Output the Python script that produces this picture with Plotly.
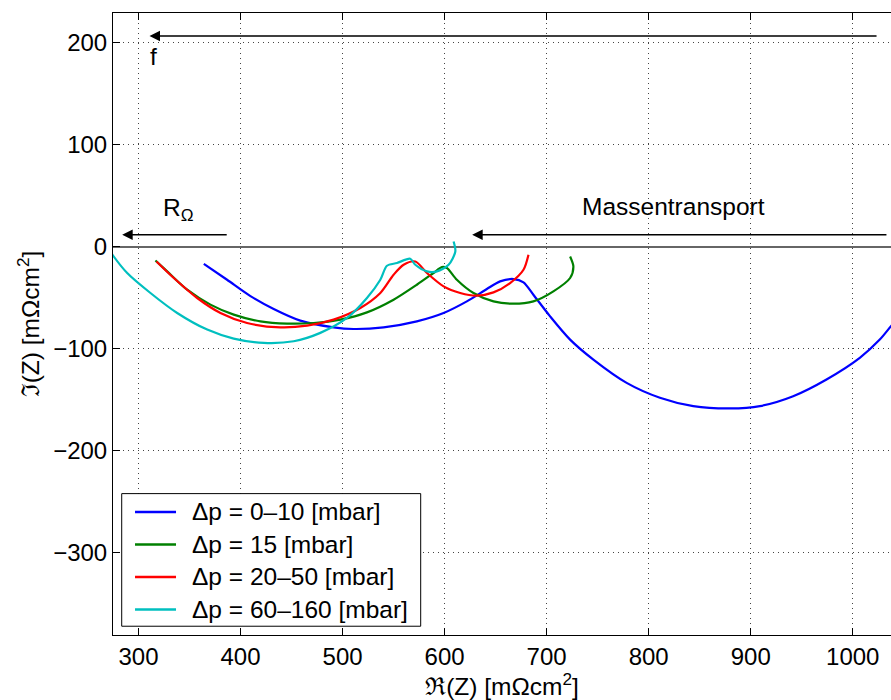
import plotly.graph_objects as go

# Impedance spectra (Nyquist representation), Re(Z) vs Im(Z) in mOhm cm^2
re_0_10 = [364, 386.8, 409.7, 432.5, 458.6, 491.2, 510.8, 540.2, 572.8, 599, 621.8, 641.4,
           654.4, 667.5, 677.3, 687, 703.4, 723, 745.8, 778.4, 811, 843.7, 879.6, 909,
           941.6, 974.3, 1006.9, 1026.5, 1037.3, 1045]
im_0_10 = [-17, -32.6, -48.6, -61.3, -72.7, -79.3, -80.9, -79.3, -73.4, -65.2, -53.8, -41.7,
           -34.2, -31.9, -35.2, -47.3, -68.5, -91.3, -110.9, -133.7, -148.3, -156.5, -158.8, -156.5,
           -146.8, -130.4, -109.2, -91.3, -78.3, -69]

re_15 = [316.6, 328.1, 347.7, 370.5, 393.3, 419.4, 445.6, 471.7, 497.8, 523.9, 550, 572.8,
         589.1, 597.3, 602.2, 612, 628.3, 647.9, 667.5, 687, 706.6, 723, 726.2, 723]
im_15 = [-13.7, -24.4, -42.4, -57, -66.8, -73.4, -75.6, -75, -71.7, -64.6, -52.2, -37.5,
         -26, -20.2, -21.1, -32.6, -45.6, -53.8, -56.1, -53.8, -44, -30.9, -19.6, -9.8]

re_20_50 = [317.6, 334.6, 357.5, 380.3, 406.4, 439, 465.2, 491.2, 517.4, 537, 550, 559.8,
            571.3, 582.7, 599, 615.3, 631.6, 647.9, 664.2, 677.3, 682.2]
im_20_50 = [-14.7, -30.9, -50.5, -65.2, -75, -79.3, -77.6, -71.7, -60.3, -45.6, -27.7, -17.9,
            -14.7, -26, -39.1, -45.6, -48.2, -45, -35.8, -22.8, -8.1]

re_60_160 = [273.5, 275.2, 288.9, 311.7, 337.9, 367.3, 393.3, 422.7, 452.1, 478.2, 504.3, 523.9,
             537, 543.5, 553.3, 566.3, 571.3, 582.7, 592.5, 603.9, 610.5, 608.8]
im_60_160 = [-6.5, -9.1, -26, -45.6, -65.2, -81.5, -90.3, -94.5, -92.9, -84.7, -70.1, -50.5,
             -32.6, -18.9, -16.2, -12, -17.9, -24.4, -24.4, -17.9, -4.9, 4.9]

series_names = ["Δp = 0–10 [mbar]", "Δp = 15 [mbar]", "Δp = 20–50 [mbar]", "Δp = 60–160 [mbar]"]
series_re = [re_0_10, re_15, re_20_50, re_60_160]
series_im = [im_0_10, im_15, im_20_50, im_60_160]
series_colors = ["#0000ff", "#008000", "#ff0000", "#00bfbf"]

x_ticks = [300, 400, 500, 600, 700, 800, 900, 1000]
y_ticks = [-300, -200, -100, 0, 100, 200]

FONT = "Liberation Sans, Arial, Helvetica, sans-serif"
TICK_SIZE = 24
TEXT_SIZE = 24.5
LINE_W = 2.2

fig = go.Figure()
for name, xs, ys, col in zip(series_names, series_re, series_im, series_colors):
    fig.add_trace(go.Scatter(x=xs, y=ys, mode="lines", name=name, showlegend=False,
                             line=dict(color=col, width=LINE_W, shape="spline", smoothing=0.8)))

axis_common = dict(
    showline=True, linecolor="black", linewidth=1,
    ticks="inside", ticklen=7, tickwidth=1, tickcolor="black",
    showgrid=True, gridcolor="#444444", gridwidth=1, griddash="1px,4px",
    tickfont=dict(family=FONT, size=TICK_SIZE, color="black"),
)

fig.update_xaxes(range=[275, 1037.5], tickvals=x_ticks, mirror="ticks", zeroline=False,
                 title=dict(text="ℜ(Z) [mΩcm<sup>2</sup>]",
                            font=dict(family=FONT, size=TEXT_SIZE, color="black"), standoff=2),
                 **axis_common)
fig.update_yaxes(range=[-381, 229], tickvals=y_ticks, mirror=False,
                 zeroline=True, zerolinecolor="#666666", zerolinewidth=2,
                 title=dict(text="ℑ(Z) [mΩcm<sup>2</sup>]",
                            font=dict(family=FONT, size=TEXT_SIZE, color="black"), standoff=6),
                 **axis_common)

# Direction arrows: frequency, ohmic resistance, mass transport
arrow_style = dict(showarrow=True, arrowhead=2, arrowsize=1.5, arrowwidth=1.4, arrowcolor="black",
                   xref="x", yref="y", axref="x", ayref="y", text="")
fig.add_annotation(x=310.8, y=206.5, ax=1024.8, ay=206.5, **arrow_style)
fig.add_annotation(x=284, y=11.5, ax=387.9, ay=11.5, **arrow_style)
fig.add_annotation(x=627, y=11.5, ax=1034.5, ay=11.5, **arrow_style)

label_font = dict(family=FONT, size=TEXT_SIZE, color="black")
fig.add_annotation(x=314.4, y=186, text="f", showarrow=False, font=label_font)
fig.add_annotation(x=339, y=36, text="R<sub>Ω</sub>", showarrow=False, font=label_font)
fig.add_annotation(x=824.7, y=39, text="Massentransport", showarrow=False, font=label_font)

# Legend box in the lower-left corner of the axes (paper coordinates)
leg_box = dict(x0=0.0112, x1=0.3955, y0=0.0141, y1=0.2273)
leg_line_x = (0.0283, 0.0810)
leg_text_x = 0.099
leg_row_top = 0.1979
leg_row_step = 0.0523

fig.add_shape(type="rect", xref="paper", yref="paper", **leg_box,
              line=dict(color="black", width=1), fillcolor="white", layer="above")
for i, (name, col) in enumerate(zip(series_names, series_colors)):
    yy = leg_row_top - i * leg_row_step
    fig.add_shape(type="line", xref="paper", yref="paper",
                  x0=leg_line_x[0], x1=leg_line_x[1], y0=yy, y1=yy,
                  line=dict(color=col, width=LINE_W + 0.3), layer="above")
    fig.add_annotation(xref="paper", yref="paper", x=leg_text_x, y=yy, text=name,
                       xanchor="left", yanchor="middle", showarrow=False, font=label_font)

fig.update_layout(
    width=891, height=700,
    margin=dict(l=113, r=0, t=13, b=64.5),
    paper_bgcolor="white", plot_bgcolor="white",
    font=dict(family=FONT, size=TEXT_SIZE, color="black"),
    showlegend=False,
)

fig.write_html("out.html")
